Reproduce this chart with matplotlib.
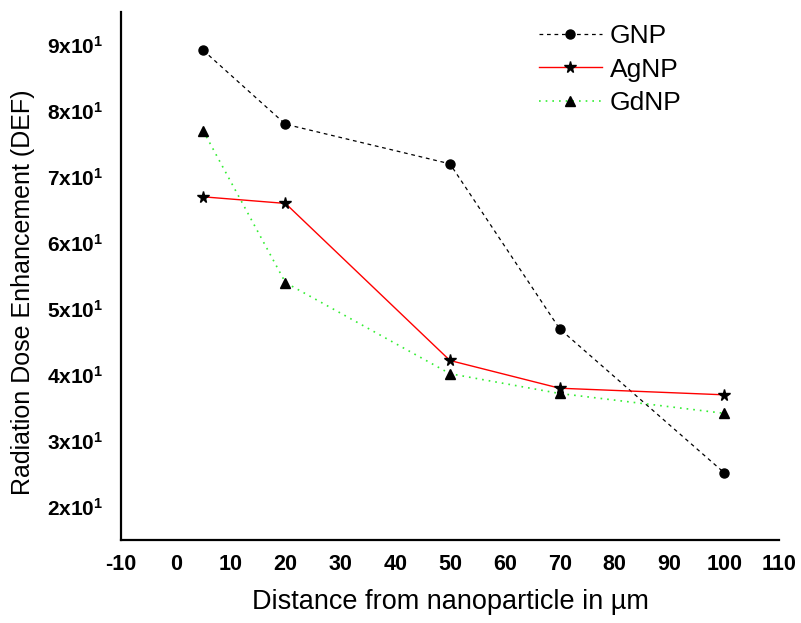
import matplotlib
matplotlib.use("Agg")
import matplotlib.pyplot as plt

distance = [5, 20, 50, 70, 100]
gnp = [89.2, 78, 72, 47, 25.2]
agnp = [67, 66, 42.2, 38, 37]
gdnp = [77, 54, 40.2, 37.2, 34.2]

x_ticks = list(range(-10, 111, 10))
y_ticks = [20, 30, 40, 50, 60, 70, 80, 90]
y_tick_labels = [r"$\mathbf{%dx10^{1}}$" % (v // 10) for v in y_ticks]

plt.rcParams['font.family'] = ['Liberation Sans', 'DejaVu Sans']
plt.rcParams['mathtext.fontset'] = 'custom'
plt.rcParams['mathtext.rm'] = 'Liberation Sans'
plt.rcParams['mathtext.bf'] = 'Liberation Sans:bold'
plt.rcParams['mathtext.it'] = 'Liberation Sans:italic'

fig = plt.figure(figsize=(8.01, 6.23), dpi=100)
ax = fig.add_axes([0.151, 0.1332, 0.8215, 0.8475])

ax.plot(distance, gnp, color='black', linestyle=(0, (3, 3)), linewidth=0.9,
        marker='o', markersize=6.5, label='GNP')
ax.plot(distance, agnp, color='red', linestyle='-', linewidth=1.0,
        marker='*', markersize=8.5, markerfacecolor='black', markeredgecolor='black',
        label='AgNP')
ax.plot(distance, gdnp, color='#33ee33', linestyle=(0, (1, 3)), linewidth=1.2,
        marker='^', markersize=7, markerfacecolor='black', markeredgecolor='black',
        label='GdNP')

ax.set_xlim(-10, 110)
ax.set_ylim(15, 95)
ax.set_xticks(x_ticks)
ax.set_xticklabels([str(v) for v in x_ticks], fontsize=15.5, fontweight='bold')
ax.set_yticks(y_ticks)
ax.set_yticklabels(y_tick_labels, fontsize=15)
ax.tick_params(axis='both', length=0)
ax.tick_params(axis='y', pad=13)
ax.tick_params(axis='x', pad=10)

for s in ['top', 'right']:
    ax.spines[s].set_visible(False)
for s in ['left', 'bottom']:
    ax.spines[s].set_linewidth(1.6)

ax.set_xlabel('Distance from nanoparticle in \u00b5m', fontsize=19.5)
ax.set_ylabel('Radiation Dose Enhancement (DEF)', fontsize=18)
ax.xaxis.set_label_coords(0.5, -0.093)
ax.yaxis.set_label_coords(-0.13, 0.47)

ax.legend(loc='upper left', bbox_to_anchor=(0.635, 0.977), frameon=False,
          fontsize=19, handlelength=2.4, handletextpad=0.3, labelspacing=0.36,
          borderpad=0, borderaxespad=0)

fig.savefig('out.png', dpi=100)
